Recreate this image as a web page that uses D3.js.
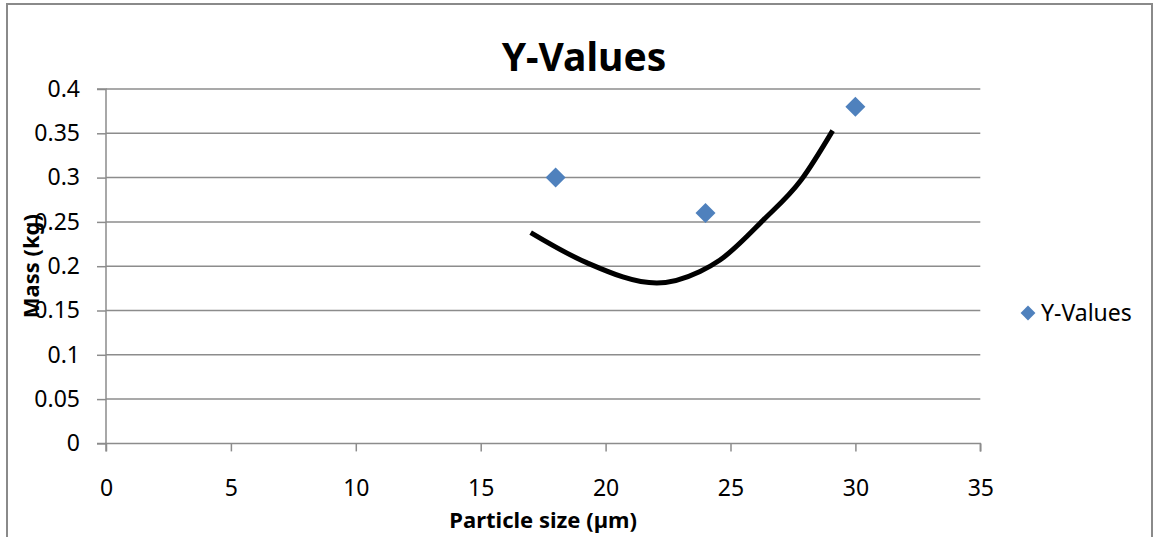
<!DOCTYPE html>
<html lang="en">
<head>
    <meta charset="UTF-8">
    <title>Y-Values</title>
    <script src="https://d3js.org/d3.v7.min.js"></script>
    <style>
        body {
            margin: 0;
            padding: 0;
            background-color: #ffffff;
            overflow: hidden;
        }

        svg {
            display: block;
            font-family: "Noto Sans", "Open Sans", sans-serif;
        }

        text {
            fill: #000;
        }
    </style>
</head>
<body>
    <script>
        // Scatter data (particle size vs mass)
        const sizes = [18, 24, 30];
        const masses = [0.30, 0.26, 0.38];

        // Hand-drawn black curve
        const curveX = [17.0, 19.24, 22.05, 23.78, 24.58, 26.31, 27.82, 29.09];
        const curveY = [0.238, 0.204, 0.181, 0.194, 0.207, 0.252, 0.297, 0.353];

        const xTicks = [0, 5, 10, 15, 20, 25, 30, 35];
        const yTicks = [0, 0.05, 0.1, 0.15, 0.2, 0.25, 0.3, 0.35, 0.4];

        const width = 1155;
        const height = 537;
        const margin = { top: 89, right: 175, bottom: 94, left: 106 };

        const svg = d3.select("body").append("svg")
            .attr("width", width)
            .attr("height", height);

        // Outer chart border
        svg.append("rect")
            .attr("x", 7)
            .attr("y", 4)
            .attr("width", 1145)
            .attr("height", 540)
            .attr("fill", "none")
            .attr("stroke", "#8a8a8a")
            .attr("stroke-width", 2);

        const x = d3.scaleLinear()
            .domain([0, 35])
            .range([margin.left, width - margin.right + 0.3]);

        const y = d3.scaleLinear()
            .domain([0, 0.4])
            .range([height - margin.bottom + 0.4, margin.top]);

        // Horizontal gridlines
        svg.append("g")
            .selectAll("line")
            .data(yTicks.filter(d => d > 0))
            .enter().append("line")
            .attr("x1", x(0))
            .attr("x2", x(35))
            .attr("y1", d => y(d))
            .attr("y2", d => y(d))
            .attr("stroke", "#8c8c8c")
            .attr("stroke-width", 1.5);

        // Axes
        const xAxis = svg.append("g")
            .attr("transform", `translate(0,${y(0)})`)
            .call(d3.axisBottom(x).tickValues(xTicks).tickSize(8).tickPadding(28).tickFormat(d3.format("d")));

        const yAxis = svg.append("g")
            .attr("transform", `translate(${x(0)},0)`)
            .call(d3.axisLeft(y).tickValues(yTicks).tickSize(9).tickPadding(17).tickFormat(d => String(+d.toFixed(2))));

        [xAxis, yAxis].forEach(a => {
            a.selectAll("path, line")
                .attr("stroke", "#8c8c8c")
                .attr("stroke-width", 1.5);
            a.selectAll("text")
                .attr("fill", "#000")
                .style("font-size", "23px")
                .style("font-family", "\"Noto Sans\", sans-serif");
        });
        xAxis.select(".domain").attr("d", `M${x(0)},8V0H${x(35)}V8`);
        yAxis.select(".domain").attr("d", `M-9,${y(0.4)}H0V${y(0)}H-9`);

        // Black curve
        const curvePts = curveX.map((v, i) => [v, curveY[i]]);
        const line = d3.line()
            .x(d => x(d[0]))
            .y(d => y(d[1]))
            .curve(d3.curveMonotoneX);

        svg.append("path")
            .datum(curvePts)
            .attr("d", line)
            .attr("fill", "none")
            .attr("stroke", "#000")
            .attr("stroke-width", 5);

        // Diamond markers
        const diamond = d3.symbol().type(d3.symbolSquare).size(200);
        svg.append("g")
            .selectAll("path")
            .data(sizes.map((s, i) => [s, masses[i]]))
            .enter().append("path")
            .attr("d", diamond)
            .attr("transform", d => `translate(${x(d[0])},${y(d[1])}) rotate(45)`)
            .attr("fill", "#4f81bd");

        // Title
        svg.append("text")
            .attr("x", 584)
            .attr("y", 71)
            .attr("text-anchor", "middle")
            .style("font-size", "39px")
            .style("font-weight", "bold")
            .text("Y-Values");

        // Axis titles
        svg.append("text")
            .attr("x", (x(0) + x(35)) / 2)
            .attr("y", 528)
            .attr("text-anchor", "middle")
            .style("font-size", "22px")
            .style("font-weight", "bold")
            .text("Particle size (µm)");

        svg.append("text")
            .attr("transform", `translate(39,${(y(0) + y(0.4)) / 2}) rotate(-90)`)
            .attr("text-anchor", "middle")
            .style("font-size", "22px")
            .style("font-weight", "bold")
            .text("Mass (kg)");

        // Legend
        const legend = svg.append("g")
            .attr("transform", "translate(1028,313)");
        legend.append("path")
            .attr("d", d3.symbol().type(d3.symbolSquare).size(110))
            .attr("transform", "rotate(45)")
            .attr("fill", "#4f81bd");
        legend.append("text")
            .attr("x", 13)
            .attr("y", 8)
            .style("font-size", "23px")
            .text("Y-Values");
    </script>
</body>
</html>
